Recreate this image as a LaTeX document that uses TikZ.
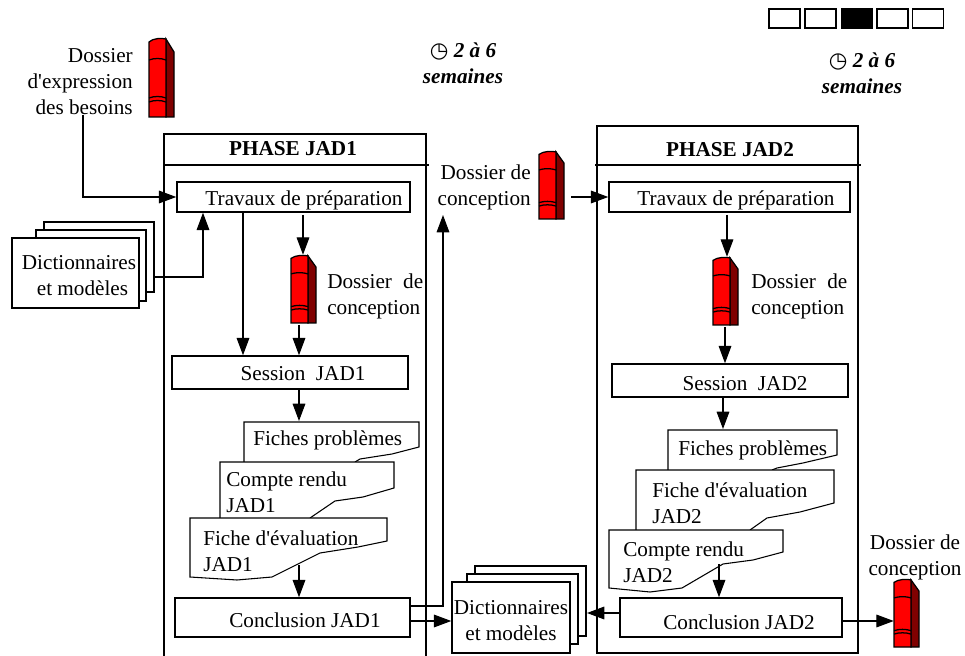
\documentclass[tikz,border=0pt]{standalone}
\usepackage{fontspec}
\newfontfamily\serfont{Liberation Serif}
\newfontfamily\symfont{DejaVu Sans}
\usetikzlibrary{arrows.meta}
\newdimen\px \px=.75pt
\definecolor{bookred}{RGB}{255,0,0}
\definecolor{bookdark}{RGB}{128,0,0}
\newcommand\basefont{\serfont\fontsize{15.9}{19.5}\selectfont}
\newcommand\clockglyph{{\symfont\fontsize{16}{19.5}\selectfont\mdseries\upshape ◷}}
\newcommand\drop[2]{\raisebox{-#1\px}[\height][\depth]{#2}}
% name, x0, y0, y1
\newcommand\bookicon[4]{%
  \node[inner sep=0pt,minimum width=26\px,minimum height={(#4-#3)*\px}] (#1) at ({#2+13},{(#3+#4)/2}) {};
  \begin{scope}[shift={(#2,#3)},yscale={(#4-#3)/79},line width=.95pt]
    \draw[fill=bookdark] (17,1) -- (25,14) -- (25,79) -- (17,79) -- cycle;
    \draw[fill=bookred] (0,4) .. controls (4,0) and (13,0) .. (17,1) -- (17,79) -- (0,79) -- cycle;
    \draw (0,22) .. controls (5,20) and (12,20) .. (17,22);
    \draw (0,60) .. controls (5,58) and (12,58) .. (17,60);
    \draw (0,64) .. controls (5,62) and (12,62) .. (17,64);
  \end{scope}}
\tikzset{
  txt/.style={inner sep=0pt,font=\basefont},
  boxnode/.style={draw,line width=1.15pt,fill=white,inner sep=0pt,font=\basefont,align=center},
  sheet/.style={draw,line width=1.05pt,fill=white},
  docshape/.style={draw,line width=.8pt,fill=white},
  frame/.style={draw,line width=1.05pt},
  flow/.style={draw,line width=.8pt,-{Triangle[length=13pt,width=9.5pt]}},
  link/.style={draw,line width=.9pt},
  cell/.style={draw,line width=1.05pt,inner sep=0pt,minimum width=31\px,minimum height=19\px},
  dur/.style={inner sep=0pt,font=\basefont\bfseries\itshape,align=center}
}
\begin{document}
\begin{tikzpicture}[x=.75pt,y=-.75pt]
\useasboundingbox (0,0) rectangle (965,656);

% progress cells
\node[cell] (c1) at (784.5,18.5) {};
\node[cell] (c2) at (820.5,18.5) {};
\node[cell,fill=black] (c3) at (857,18.5) {};
\node[cell] (c4) at (892.5,18.5) {};
\node[cell] (c5) at (928,18.5) {};

% durations
\node[dur] (t1) at (463,63) {\clockglyph\ 2 à 6\\semaines};
\node[dur] (t2) at (862,73) {\clockglyph\ 2 à 6\\semaines};

% phase frames
\draw[frame] (164,656) -- (164,134) -- (426,134) -- (426,656);
\draw[link] (164,165) -- (429,165);
\node[inner sep=0pt,font=\basefont\bfseries] (ph1) at (293,149) {PHASE JAD1};
\draw[frame] (597,126) rectangle (858,653);
\draw[link] (595,165) -- (861,165);
\node[inner sep=0pt,font=\basefont\bfseries] (ph2) at (730,150) {PHASE JAD2};

% top left input
\node[txt,align=right,anchor=east] (need) at (133,82) {Dossier\\d'expression\\des besoins};
\bookicon{b0}{149}{38}{117}

% left stack
\draw[sheet] (44,222) rectangle (154,292);
\draw[sheet] (36,230) rectangle (146,301);
\node[boxnode,minimum width=127\px,minimum height=70\px] (dict1) at (75.5,273)
  {\drop{3}{\parbox{127\px}{\centering\hspace*{7\px}Dictionnaires\\\hspace*{14\px}et modèles}}};

% phase 1 boxes
\node[boxnode,minimum width=233\px,minimum height=30\px] (trav1) at (293.5,197) {\hspace*{21\px}\drop{3}{Travaux de préparation}};
\node[boxnode,minimum width=236\px,minimum height=33\px] (sess1) at (290,372.5) {\hspace*{26\px}\drop{1}{Session\ \ JAD1}};
\node[boxnode,minimum width=235\px,minimum height=39\px] (conc1) at (292.5,617.5) {\hspace*{25\px}\drop{3}{Conclusion JAD1}};
\bookicon{b1}{291}{255}{323}
\node[txt,text width=96\px,align=justify,anchor=west] (lab1) at (327,296) {Dossier\hfill de\\conception};

% phase 1 documents
\path[docshape] (244,462) -- (244,422) -- (419,422) -- (419,447) -- (392,454) -- (360,459) -- (355,462);
\node[txt,anchor=base west] (f1) at (253,445) {Fiches problèmes};
\path[docshape] (220,518) -- (220,462) -- (394,462) -- (394,488) -- (363,497) -- (335,501) -- (310,518);
\node[txt,anchor=base west,align=left] (f2) at (226,512) {Compte rendu\\JAD1};
\path[docshape] (190,518) -- (387,518) -- (387,541) -- (358,547) -- (320,553) -- (272,577) -- (237,580) -- (190,577) -- cycle;
\node[txt,anchor=base west,align=left] (f3) at (203,571) {Fiche d'évaluation\\JAD1};

% centre dossier
\node[txt,align=right,anchor=east] (lab2) at (531,187) {Dossier de\\conception};
\bookicon{b2}{539}{151}{219}

% centre stack
\draw[sheet] (475,566) rectangle (586,636);
\draw[sheet] (467,574) rectangle (578,644);
\node[boxnode,minimum width=118\px,minimum height=71\px] (dict2) at (511,617.5) {\drop{3}{\parbox{118\px}{\centering Dictionnaires\\et modèles}}};

% phase 2 boxes
\node[boxnode,minimum width=241\px,minimum height=30\px] (trav2) at (729.5,197) {\hspace*{13\px}\drop{3}{Travaux de préparation}};
\node[boxnode,minimum width=236\px,minimum height=33\px] (sess2) at (730,380.5) {\hspace*{30\px}\drop{3}{Session\ \ JAD2}};
\node[boxnode,minimum width=222\px,minimum height=39\px] (conc2) at (731,617.5) {\hspace*{16\px}\drop{5}{Conclusion JAD2}};
\bookicon{b3}{713}{257}{325}
\node[txt,text width=96\px,align=justify,anchor=west] (lab3) at (751,296) {Dossier\hfill de\\conception};

% phase 2 documents
\path[docshape] (668,470) -- (668,430) -- (837,430) -- (837,455) -- (803,463) -- (777,468) -- (772,470);
\node[txt,anchor=base west] (g1) at (678,455) {Fiches problèmes};
\path[docshape] (636,530) -- (636,470) -- (834,470) -- (834,503) -- (800,512) -- (767,518) -- (750,530);
\node[txt,anchor=base west,align=left] (g2) at (652,523) {Fiche d'évaluation\\JAD2};
\path[docshape] (609,530) -- (783,530) -- (783,552) -- (753,560) -- (723,564) -- (682,588) -- (650,592) -- (609,588) -- cycle;
\node[txt,anchor=base west,align=left] (g3) at (623,582) {Compte rendu\\JAD2};

% end dossier
\node[txt,align=center] (lab4) at (915,557) {Dossier de\\conception};
\bookicon{b4}{894}{579}{647}

% connectors
\draw[flow] (83,0 |- need.south) |- (trav1.west);
\draw[flow] (dict1.east |- 0,277) ++(15,0) -| (203,0 |- trav1.south);
\draw[flow] (243,0 |- trav1.south) -- (243,0 |- sess1.north);
\draw[flow] (303,215) -- (303,0 |- b1.north);
\draw[flow] (299,0 |- b1.south) ++(0,2) -- (299,0 |- sess1.north);
\draw[flow] (299,0 |- sess1.south) -- (299,421);
\draw[flow] (299,565) -- (299,0 |- conc1.north);
\draw[flow] (conc1.east |- 0,606) -| (443,215);
\draw[flow] (conc1.east |- 0,621) -- (dict2.west |- 0,621);
\draw[flow] (571,0 |- trav2.west) -- (trav2.west);
\draw[flow] (727,215) -- (727,0 |- b3.north);
\draw[flow] (725,327) -- (725,0 |- sess2.north);
\draw[flow] (723,0 |- sess2.south) -- (723,429);
\draw[flow] (719,564) -- (719,0 |- conc2.north);
\draw[flow] (conc2.west |- 0,613) -- (587,613);
\draw[flow] (conc2.east |- 0,621) -- (b4.west |- 0,621);
\end{tikzpicture}
\end{document}
